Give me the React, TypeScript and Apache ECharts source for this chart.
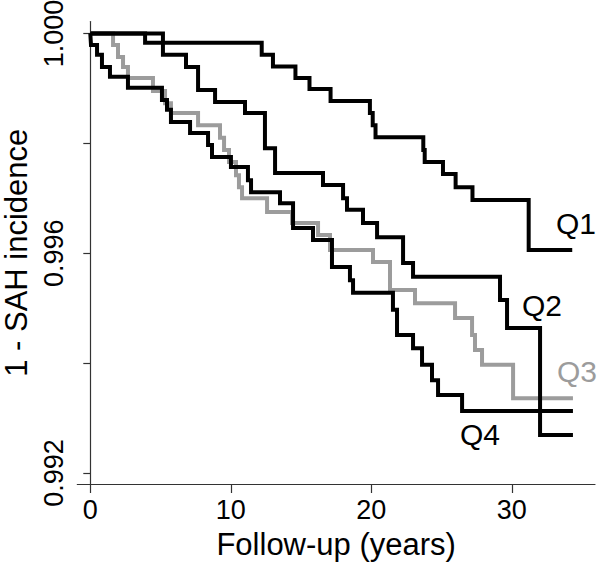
import React, { useEffect, useRef } from "react";
import * as echarts from "echarts";

// Follow-up times (years) at which each curve steps, and the survival value after the step
const q1Times = [0, 3.9, 12.2, 13.0, 14.6, 15.6, 17.1, 19.9, 20.1, 20.3, 23.7, 23.8, 25.1, 26.0, 27.2, 31.2, 34.3];
const q1Surv = [1, 0.99983, 0.99961, 0.9994, 0.99919, 0.99899, 0.99877, 0.99855, 0.99833, 0.99811, 0.99788, 0.99766, 0.99744, 0.9972, 0.99697, 0.99606, 0.99606];

const q2Times = [0, 5.17, 6.81, 7.67, 8.88, 11.01, 12.43, 13.15, 16.56, 17.99, 18.27, 19.41, 20.41, 22.26, 22.97, 29.16, 29.66, 32.01, 34.35];
const q2Surv = [1, 0.99961, 0.99939, 0.99897, 0.99875, 0.99855, 0.99791, 0.99746, 0.99724, 0.997, 0.99679, 0.99655, 0.99629, 0.99582, 0.99557, 0.99515, 0.99464, 0.99269, 0.99269];

const q3Times = [0, 1.62, 1.97, 2.33, 2.68, 4.46, 5.32, 5.74, 7.67, 9.23, 9.52, 9.87, 10.37, 10.58, 10.8, 12.58, 14.36, 16.21, 17.06, 20.12, 21.33, 23.11, 25.96, 27.17, 27.38, 27.88, 30.09, 34.35];
const q3Surv = [1, 0.99979, 0.99957, 0.99939, 0.99919, 0.99895, 0.99873, 0.99855, 0.99833, 0.9981, 0.99788, 0.99766, 0.99742, 0.9972, 0.997, 0.99675, 0.99655, 0.99633, 0.99606, 0.99584, 0.99533, 0.99509, 0.99482, 0.99451, 0.99424, 0.99397, 0.99336, 0.99336];

const q4Times = [0, 0.05, 0.48, 0.83, 1.4, 2.68, 5.1, 5.46, 5.74, 7.1, 8.38, 8.66, 10.01, 11.22, 11.44, 13.5, 14.43, 15.85, 17.2, 18.48, 18.7, 21.54, 21.83, 22.97, 23.61, 24.32, 24.75, 26.46, 34.35];
const q4Surv = [1, 0.99979, 0.99961, 0.99939, 0.99921, 0.99901, 0.99879, 0.99861, 0.99839, 0.99819, 0.99797, 0.99775, 0.99757, 0.99733, 0.99711, 0.99691, 0.99646, 0.99624, 0.99575, 0.99551, 0.99528, 0.99497, 0.99451, 0.99427, 0.99397, 0.99369, 0.99342, 0.99313, 0.99313];

const xTicks = [0, 10, 20, 30];
const yTicks = [0.992, 0.994, 0.996, 0.998, 1.0];
const yLabels = [0.992, 0.996, 1.0];

const groupNames = ["Q1", "Q2", "Q3", "Q4"];

const FONT = '"Liberation Sans", Arial, Helvetica, sans-serif';

function toPairs(t: number[], s: number[]) {
  return t.map((v, i) => [v, s[i]]);
}

export default function App() {
  const ref = useRef<HTMLDivElement>(null);
  useEffect(() => {
    if (!ref.current) return;
    const chart = echarts.init(ref.current, undefined, { renderer: "svg" });
    const lineBase = (color: string) => ({
      type: "line" as const,
      step: "end" as const,
      symbol: "none",
      showSymbol: false,
      silent: true,
      lineStyle: { color, width: 4, join: "miter", cap: "butt" },
      emphasis: { disabled: true },
    });
    chart.setOption({
      animation: false,
      textStyle: { fontFamily: FONT },
      grid: { left: 77.3, right: 5, top: 21.5, bottom: 79, containLabel: false, outerBoundsMode: "none" },
      xAxis: {
        type: "value",
        min: -0.925,
        max: 35.92,
        name: "Follow-up (years)",
        nameLocation: "middle",
        nameGap: 45,
        nameTextStyle: { fontSize: 31, color: "#000", fontFamily: FONT, lineHeight: 31 },
        axisLine: { show: true, lineStyle: { color: "#333", width: 1.2 } },
        axisTick: { show: true, length: 9, customValues: xTicks, lineStyle: { color: "#333", width: 1.2 } },
        axisLabel: { customValues: xTicks, fontSize: 27, color: "#000", margin: 12, fontFamily: FONT },
        splitLine: { show: false },
      },
      yAxis: {
        type: "value",
        min: 0.9918,
        max: 1.000217,
        name: "1 - SAH incidence",
        nameLocation: "middle",
        nameGap: 43,
        nameTextStyle: { fontSize: 31, color: "#000", fontFamily: FONT, lineHeight: 31 },
        axisLine: { show: true, lineStyle: { color: "#333", width: 1.2 } },
        axisTick: { show: true, length: 7, customValues: yTicks, lineStyle: { color: "#333", width: 1.2 } },
        axisLabel: {
          customValues: yLabels,
          rotate: 90,
          fontSize: 27,
          color: "#000",
          margin: 10,
          fontFamily: FONT,
          formatter: (v: number) => v.toFixed(3),
        },
        splitLine: { show: false },
      },
      series: [
        { ...lineBase("#9c9c9c"), name: groupNames[2], data: toPairs(q3Times, q3Surv) },
        { ...lineBase("#000"), name: groupNames[0], data: toPairs(q1Times, q1Surv) },
        { ...lineBase("#000"), name: groupNames[1], data: toPairs(q2Times, q2Surv) },
        { ...lineBase("#000"), name: groupNames[3], data: toPairs(q4Times, q4Surv) },
      ],
      graphic: [
        { type: "text", x: 576, y: 223, style: { text: groupNames[0], font: `30px ${FONT}`, fill: "#000", align: "center", verticalAlign: "middle" } },
        { type: "text", x: 542, y: 305, style: { text: groupNames[1], font: `30px ${FONT}`, fill: "#000", align: "center", verticalAlign: "middle" } },
        { type: "text", x: 577, y: 371, style: { text: groupNames[2], font: `30px ${FONT}`, fill: "#9c9c9c", align: "center", verticalAlign: "middle" } },
        { type: "text", x: 480, y: 434, style: { text: groupNames[3], font: `30px ${FONT}`, fill: "#000", align: "center", verticalAlign: "middle" } },
      ],
    });
    return () => chart.dispose();
  }, []);
  return (
    <div
      ref={ref}
      style={{ position: "fixed", left: 0, top: 0, width: 600, height: 563, background: "#fff" }}
    />
  );
}
